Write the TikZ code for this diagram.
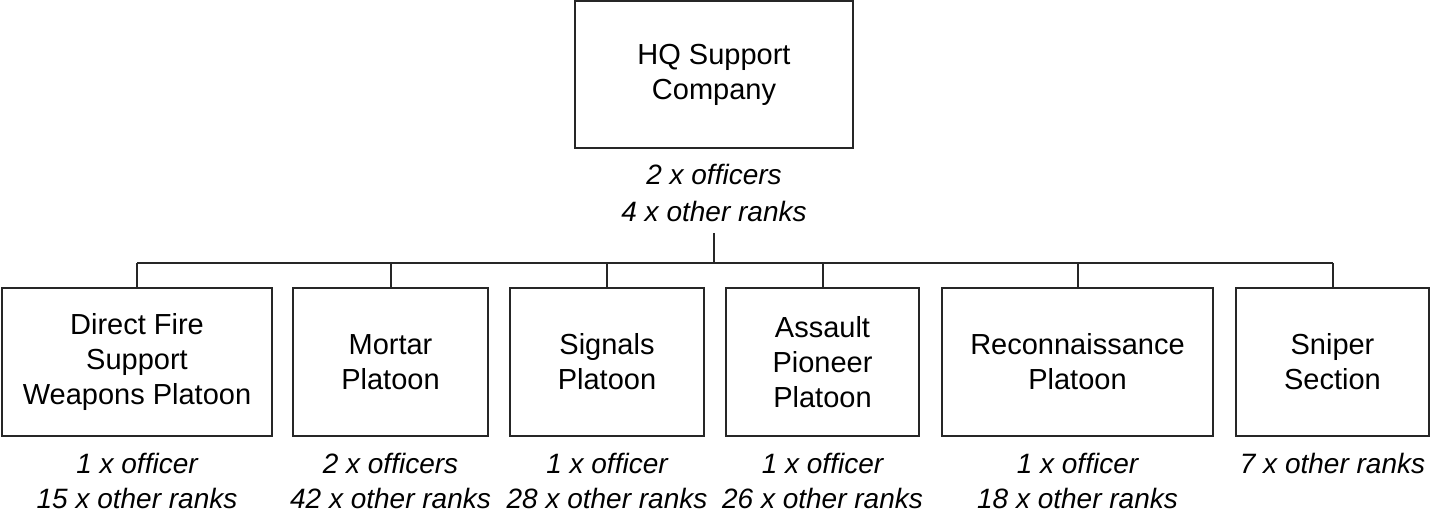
\documentclass[tikz,border=0pt]{standalone}
\usepackage{fontspec}
\setmainfont{Liberation Sans}
\begin{document}
\begin{tikzpicture}[x=0.5pt,y=-0.5pt,
  unit/.style={draw=black!85,line width=1pt,minimum width=#1,minimum height=74pt,inner sep=0pt,align=center,
    font=\fontsize{14.5}{17.5}\selectfont},
  staff/.style={align=center,anchor=base,inner sep=0pt,font=\fontsize{14}{17.5}\selectfont\itshape},
  link/.style={draw=black!85,line width=1pt}]
\useasboundingbox (0,0) rectangle (1431,517);
\node[unit=139pt,minimum height=73.5pt] (hq) at (714,74.5) {HQ Support\\Company};
\node[staff,font=\fontsize{14}{18.5}\selectfont\itshape] (hqlab) at (714,222) {2 x officers\\4 x other ranks};
\node[unit=135pt] (df) at (137,362) {Direct Fire\\Support\\Weapons Platoon};
\node[unit=97.5pt] (mo) at (390.5,362) {Mortar\\Platoon};
\node[unit=97pt] (si) at (607,362) {Signals\\Platoon};
\node[unit=96.5pt] (ap) at (822.5,362) {Assault\\Pioneer\\Platoon};
\node[unit=135.5pt] (re) at (1077.5,362) {Reconnaissance\\Platoon};
\node[unit=96.5pt] (sn) at (1332.5,362) {Sniper\\Section};
\node[staff] (dflab) at (137,509) {1 x officer\\15 x other ranks};
\node[staff] (molab) at (390.5,509) {2 x officers\\42 x other ranks};
\node[staff] (silab) at (607,509) {1 x officer\\28 x other ranks};
\node[staff] (aplab) at (822.5,509) {1 x officer\\26 x other ranks};
\node[staff] (relab) at (1077.5,509) {1 x officer\\18 x other ranks};
\node[staff] (snlab) at (1332.5,474) {7 x other ranks};
\coordinate (drop) at (714,233);
\coordinate (bus) at (714,263);
\draw[link] (drop) -- (bus);
\draw[link] (df.north |- bus) -- (sn.north |- bus);
\foreach \n in {df,mo,si,ap,re,sn}
  \draw[link] (\n.north) -- (\n.north |- bus);
\end{tikzpicture}
\end{document}
